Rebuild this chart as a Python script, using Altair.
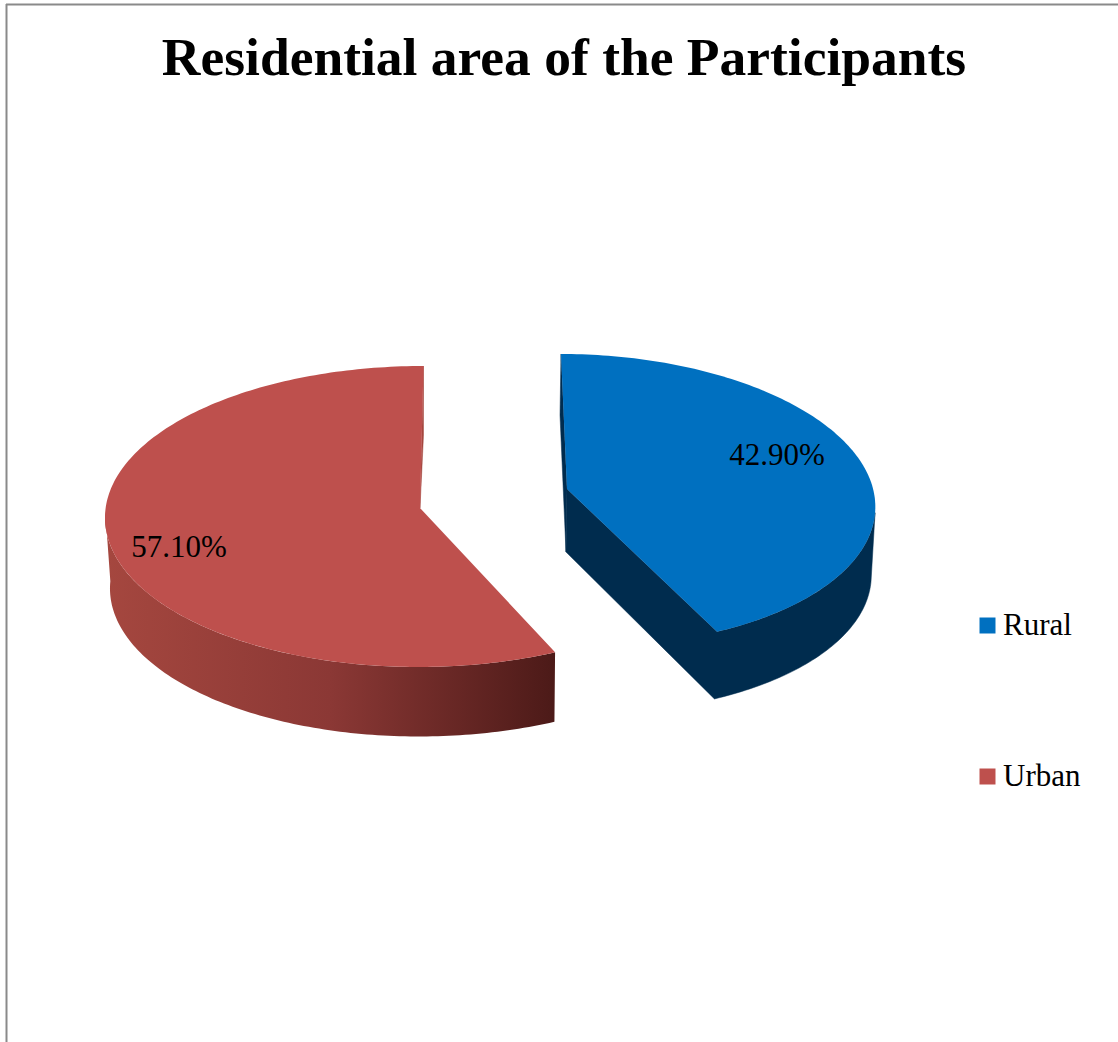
import math
import altair as alt
import pandas as pd

# Survey result: share of participants by residential area (percent)
categories = ["Rural", "Urban"]
shares = [42.9, 57.1]
top_colors = ["#0070C0", "#BE504D"]

FONT = "Liberation Serif"

# Pixel layout of the two exploded 3-D slices: ellipse of the top face,
# ellipse of the bottom edge, and the slice apex.
RURAL = dict(cx=575, a=300, b=14, cy=500, ry=146, cx2=575, a2=296, b2=13, cy2=569, ry2=144,
             apex=(567, 489), apex2=(566, 552))
URBAN = dict(cx=421, a=316, b=-2.5, cy=516.5, ry=150.5, cx2=423, a2=313, b2=-4, cy2=586.5, ry2=150,
             apex=(420, 508), apex2=(420, 570))


def edge(p, t, lower=False):
    """Point on the rim at clockwise angle t (degrees from 12 o'clock)."""
    s, c = math.sin(math.radians(t)), math.cos(math.radians(t))
    if lower:
        return (p["cx2"] + p["a2"] * s - p["b2"] * c, p["cy2"] - p["ry2"] * c)
    return (p["cx"] + p["a"] * s - p["b"] * c, p["cy"] - p["ry"] * c)


def arc(p, t0, t1, lower=False, step=1.0):
    n = max(2, int(abs(t1 - t0) / step))
    return [edge(p, t0 + (t1 - t0) * i / n, lower) for i in range(n + 1)]


def feature(pts, **props):
    ring = [list(q) for q in pts]
    ring.append(ring[0])
    return {"type": "Feature", "properties": props,
            "geometry": {"type": "Polygon", "coordinates": [ring]}}


def collection(features):
    return alt.InlineData(values={"type": "FeatureCollection", "features": features},
                          format=alt.DataFormat(property="features", type="json"))


# Slice boundaries follow the shares: Rural runs clockwise from 12 o'clock
split = 360 * shares[0] / sum(shares)

rural_top = feature([RURAL["apex"]] + arc(RURAL, 0, split), category=categories[0])
urban_top = feature([URBAN["apex"]] + arc(URBAN, split, 360), category=categories[1])

# Dark side faces of the Rural slice: the rim wall with the cut face, and the sliver behind it
rural_wall = feature([RURAL["apex"]] + arc(RURAL, split, 95)
                     + arc(RURAL, 95, split, lower=True) + [RURAL["apex2"]])
rural_back = feature([edge(RURAL, 0), (560, 415), RURAL["apex2"], RURAL["apex"]])

# Shaded rim of the Urban slice and the thin face at its upper cut
urban_wall = feature(arc(URBAN, split, 272) + arc(URBAN, 272, split, lower=True))
urban_back = feature([edge(URBAN, 360), (423.5, 435), URBAN["apex"]])

identity = dict(type="identity", scale=1, translate=[0, 0])


def solid(f, color):
    return alt.Chart(collection([f])).mark_geoshape(fill=color, stroke=color, strokeWidth=0.5).project(**identity)


wall_gradient = alt.Gradient(
    gradient="linear", x1=0, y1=0, x2=1, y2=0,
    stops=[alt.GradientStop(color="#A5473F", offset=0),
           alt.GradientStop(color="#8B3835", offset=0.5),
           alt.GradientStop(color="#4C1A18", offset=1)],
)

urban_wall_layer = (alt.Chart(collection([urban_wall]))
                    .mark_geoshape(fill=wall_gradient, strokeWidth=0)
                    .project(**identity))

tops = (alt.Chart(collection([rural_top, urban_top]))
        .mark_geoshape(strokeWidth=0)
        .encode(color=alt.Color(
            "properties.category:N",
            scale=alt.Scale(domain=categories, range=top_colors),
            legend=alt.Legend(
                orient="none", legendX=972, legendY=610, title=None, padding=0,
                symbolType="square", symbolSize=256, symbolStrokeWidth=0,
                labelFont=FONT, labelFontSize=31, labelColor="#000000",
                labelOffset=0, rowPadding=119, labelLimit=200,
            ),
        ))
        .project(**identity))

# Data labels, worded from the same shares that set the slices
label_frame = pd.DataFrame({
    "text": [f"{v:.2f}%" for v in shares],
    "px": [777, 179],
    "py": [456, 547.5],
})
labels = (alt.Chart(label_frame)
          .mark_text(font=FONT, fontSize=31, color="#000000", align="center", baseline="middle")
          .encode(longitude="px:Q", latitude="py:Q", text="text:N")
          .project(**identity))

# Chart-area frame along the top and left edges
frame_top = alt.Chart().mark_rule(color="#8A8A8A", strokeWidth=2).encode(
    x=alt.value(6), x2=alt.value(1118), y=alt.value(4.5))
frame_left = alt.Chart().mark_rule(color="#8A8A8A", strokeWidth=2).encode(
    x=alt.value(6.5), y=alt.value(4), y2=alt.value(1042))

chart = alt.layer(
    frame_top, frame_left,
    solid(rural_back, "#002C4E"), solid(rural_wall, "#002C4E"),
    solid(urban_back, "#A5473F"), urban_wall_layer,
    tops, labels,
).properties(
    width=1118, height=1042,
    padding=0,
    autosize=alt.AutoSizeParams(type="none"),
    background="#FFFFFF",
    title=alt.TitleParams(
        "Residential area of the Participants",
        font=FONT, fontSize=53.5, fontWeight="bold", color="#000000",
        anchor="middle", dx=5, dy=128, baseline="alphabetic", offset=0,
    ),
).configure_view(stroke=None)

chart.save("out.html", embed_options={"renderer": "svg", "actions": False})
